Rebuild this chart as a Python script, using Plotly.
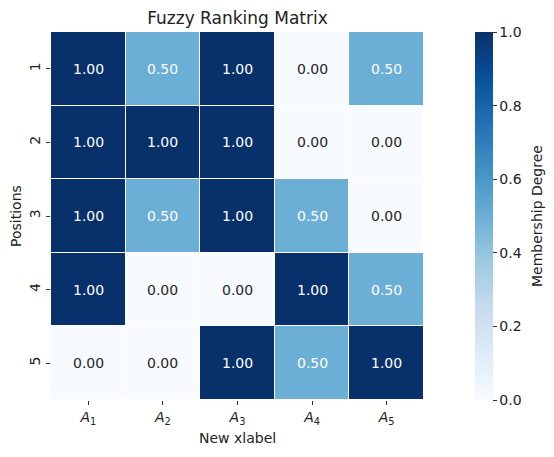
import plotly.graph_objects as go

alternatives = ["<i>A</i><sub>1</sub>", "<i>A</i><sub>2</sub>", "<i>A</i><sub>3</sub>",
                "<i>A</i><sub>4</sub>", "<i>A</i><sub>5</sub>"]
positions = ["1", "2", "3", "4", "5"]
row1 = [1.0, 0.5, 1.0, 0.0, 0.5]
row2 = [1.0, 1.0, 1.0, 0.0, 0.0]
row3 = [1.0, 0.5, 1.0, 0.5, 0.0]
row4 = [1.0, 0.0, 0.0, 1.0, 0.5]
row5 = [0.0, 0.0, 1.0, 0.5, 1.0]
z = [row1, row2, row3, row4, row5]
cbar_ticks = [0, 0.2, 0.4, 0.6, 0.8, 1.0]
cbar_labels = ["0.0", "0.2", "0.4", "0.6", "0.8", "1.0"]

blues = [
    [0.0, "#f7fbff"], [0.125, "#deebf7"], [0.25, "#c6dbef"], [0.375, "#9ecae1"],
    [0.5, "#6baed6"], [0.625, "#4292c6"], [0.75, "#2171b5"], [0.875, "#08519c"],
    [1.0, "#08306b"],
]

FONT = "DejaVu Sans, sans-serif"
FS = 14
L, R, T, B = 51, 130, 32, 57
W, H = 554, 457
PW, PH = W - L - R, H - T - B

xi = list(range(len(alternatives)))
yi = list(range(len(positions)))

fig = go.Figure(go.Heatmap(
    z=z, x=xi, y=yi, colorscale=blues, zmin=0, zmax=1,
    xgap=1, ygap=1, hoverinfo="skip",
    colorbar=dict(
        thickness=18, len=1.0, lenmode="fraction", x=(475 - L - 10) / PW, xanchor="left",
        y=0.5, yanchor="middle", ypad=0,
        tickvals=cbar_ticks, ticktext=cbar_labels,
        ticks="outside", ticklen=4, tickcolor="#333", outlinewidth=0,
        tickfont=dict(size=FS, family=FONT, color="#222"),
    ),
))

annotations = []
for i, row in enumerate(z):
    for j, v in enumerate(row):
        annotations.append(dict(
            x=xi[j], y=yi[i], xref="x", yref="y", text=f"{v:.2f}", showarrow=False,
            font=dict(size=FS, family=FONT, color="white" if v >= 0.4 else "#262626"),
        ))
annotations.append(dict(text="New xlabel", xref="paper", yref="paper", x=0.5, y=(400 - 438) / PH,
                        xanchor="center", yanchor="middle", showarrow=False,
                        font=dict(size=FS, family=FONT, color="#222")))
annotations.append(dict(text="Positions", xref="paper", yref="paper", x=(16 - L) / PW, y=0.5,
                        xanchor="center", yanchor="middle", textangle=-90, showarrow=False,
                        font=dict(size=FS, family=FONT, color="#222")))
annotations.append(dict(text="Membership Degree", xref="paper", yref="paper", x=(537 - L) / PW, y=0.5,
                        xanchor="center", yanchor="middle", textangle=-90, showarrow=False,
                        font=dict(size=FS, family=FONT, color="#222")))

fig.update_layout(
    width=W, height=H,
    margin=dict(l=L, r=R, t=T, b=B, autoexpand=False),
    paper_bgcolor="white", plot_bgcolor="white",
    title=dict(text="Fuzzy Ranking Matrix", x=(L + 424) / 2 / W, xanchor="center",
               y=1 - 18 / H, yanchor="middle", font=dict(size=17, family=FONT, color="#222")),
    annotations=annotations,
    font=dict(family=FONT, color="#222"),
)
fig.update_xaxes(tickmode="array", tickvals=xi, ticktext=alternatives,
                 range=[-0.5, len(xi) - 0.5], automargin=False,
                 ticks="outside", ticklen=4, tickcolor="#333", tickfont=dict(size=FS),
                 showgrid=False, zeroline=False)
fig.update_yaxes(tickmode="array", tickvals=yi, ticktext=positions,
                 range=[len(yi) - 0.5, -0.5], automargin=False,
                 ticks="outside", ticklen=4, tickcolor="#333",
                 tickangle=-90, tickfont=dict(size=FS), showgrid=False, zeroline=False)

fig.write_html("out.html", config={"displayModeBar": False},
               post_script="document.body.style.margin='0';")
